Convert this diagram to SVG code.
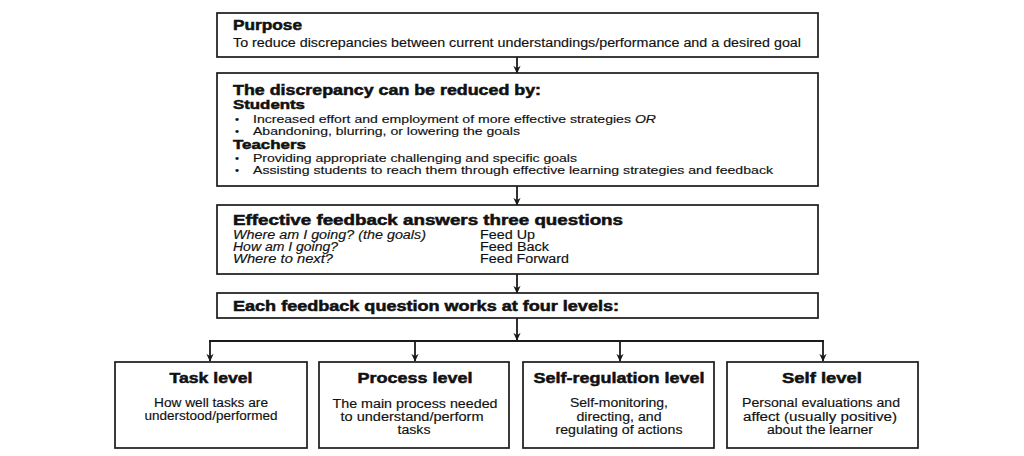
<svg xmlns="http://www.w3.org/2000/svg" width="1024" height="456" viewBox="0 0 1024 456">
<defs>
<marker id="ah" viewBox="0 0 10 10" refX="9" refY="5" markerWidth="8" markerHeight="8" markerUnits="userSpaceOnUse" orient="auto">
<path d="M0,0.5 L10,5 L0,9.5 L3,5 Z" fill="#1a1a1a"/>
</marker>
<style>
.box{fill:#fff;stroke:#1a1a1a;stroke-width:1.7}
.h{font-family:"Liberation Sans",Arial,sans-serif;font-weight:bold;font-size:14px;fill:#111;stroke:#111;stroke-width:0.5}
.hs{font-size:13px}
.t{font-family:"Liberation Sans",Arial,sans-serif;font-size:12px;fill:#111;stroke:#111;stroke-width:0.15}
.tb{font-size:11.5px}
.i{font-style:italic}
.c{text-anchor:middle}
.bt{font-family:"Liberation Sans",Arial,sans-serif;font-weight:bold;font-size:15px;fill:#111;stroke:#111;stroke-width:0.5;text-anchor:middle}
.line{fill:none;stroke:#1a1a1a;stroke-width:1.8}
</style>
</defs>
<rect width="1024" height="456" fill="#fff"/>

<g id="connectors">
<path class="line" d="M517,57 V73" marker-end="url(#ah)"/>
<path class="line" d="M517,186 V205" marker-end="url(#ah)"/>
<path class="line" d="M517,274 V293" marker-end="url(#ah)"/>
<path class="line" d="M517,318 V340" marker-end="url(#ah)"/>
<path class="line" d="M209,341 H824" style="stroke-width:2.2"/>
<path class="line" d="M210,341 V361" marker-end="url(#ah)"/>
<path class="line" d="M415,341 V361" marker-end="url(#ah)"/>
<path class="line" d="M620,341 V361" marker-end="url(#ah)"/>
<path class="line" d="M823,341 V361" marker-end="url(#ah)"/>
</g>

<g id="purpose">
<rect class="box" x="217" y="13" width="601" height="44"/>
<text class="h" x="233" y="30" textLength="69" lengthAdjust="spacingAndGlyphs">Purpose</text>
<text class="t" x="233" y="47" textLength="568" lengthAdjust="spacingAndGlyphs">To reduce discrepancies between current understandings/performance and a desired goal</text>
</g>

<g id="discrepancy">
<rect class="box" x="217" y="73" width="601" height="113"/>
<text class="h" x="233" y="95" textLength="308" lengthAdjust="spacingAndGlyphs">The discrepancy can be reduced by:</text>
<text class="h hs" x="233" y="109" textLength="72" lengthAdjust="spacingAndGlyphs">Students</text>
<text class="t tb" x="235" y="123">•</text>
<text class="t tb" x="253" y="123" textLength="403" lengthAdjust="spacingAndGlyphs">Increased effort and employment of more effective strategies <tspan class="i">OR</tspan></text>
<text class="t tb" x="235" y="135">•</text>
<text class="t tb" x="253" y="135" textLength="267" lengthAdjust="spacingAndGlyphs">Abandoning, blurring, or lowering the goals</text>
<text class="h hs" x="233" y="149" textLength="73" lengthAdjust="spacingAndGlyphs">Teachers</text>
<text class="t tb" x="235" y="162">•</text>
<text class="t tb" x="253" y="162" textLength="324" lengthAdjust="spacingAndGlyphs">Providing appropriate challenging and specific goals</text>
<text class="t tb" x="235" y="174">•</text>
<text class="t tb" x="253" y="174" textLength="520" lengthAdjust="spacingAndGlyphs">Assisting students to reach them through effective learning strategies and feedback</text>
</g>

<g id="questions">
<rect class="box" x="217" y="205" width="601" height="69"/>
<text class="h" x="233" y="225" textLength="390" lengthAdjust="spacingAndGlyphs">Effective feedback answers three questions</text>
<text class="t i" x="233" y="239" textLength="193" lengthAdjust="spacingAndGlyphs">Where am I going? (the goals)</text>
<text class="t i" x="233" y="251" textLength="105" lengthAdjust="spacingAndGlyphs">How am I going?</text>
<text class="t i" x="233" y="263" textLength="100" lengthAdjust="spacingAndGlyphs">Where to next?</text>
<text class="t" x="480" y="239" textLength="55" lengthAdjust="spacingAndGlyphs">Feed Up</text>
<text class="t" x="480" y="251" textLength="69" lengthAdjust="spacingAndGlyphs">Feed Back</text>
<text class="t" x="480" y="263" textLength="89" lengthAdjust="spacingAndGlyphs">Feed Forward</text>
</g>

<g id="four-levels">
<rect class="box" x="217" y="293" width="601" height="25"/>
<text class="h" x="233" y="311" textLength="386" lengthAdjust="spacingAndGlyphs">Each feedback question works at four levels:</text>
</g>

<g id="task-level">
<rect class="box" x="115" y="362" width="192" height="86"/>
<text class="bt" x="211" y="383" textLength="83" lengthAdjust="spacingAndGlyphs">Task level</text>
<text class="t c" x="211" y="407" textLength="114" lengthAdjust="spacingAndGlyphs">How well tasks are</text>
<text class="t c" x="211" y="420" textLength="133" lengthAdjust="spacingAndGlyphs">understood/performed</text>
</g>

<g id="process-level">
<rect class="box" x="319" y="362" width="190" height="86"/>
<text class="bt" x="415" y="383" textLength="115" lengthAdjust="spacingAndGlyphs">Process level</text>
<text class="t c" x="415" y="408" textLength="165" lengthAdjust="spacingAndGlyphs">The main process needed</text>
<text class="t c" x="412" y="421" textLength="143" lengthAdjust="spacingAndGlyphs">to understand/perform</text>
<text class="t c" x="414" y="434" textLength="33" lengthAdjust="spacingAndGlyphs">tasks</text>
</g>

<g id="self-regulation-level">
<rect class="box" x="523" y="362" width="191" height="86"/>
<text class="bt" x="619" y="383" textLength="171" lengthAdjust="spacingAndGlyphs">Self-regulation level</text>
<text class="t c" x="619" y="407" textLength="98" lengthAdjust="spacingAndGlyphs">Self-monitoring,</text>
<text class="t c" x="619" y="421" textLength="85" lengthAdjust="spacingAndGlyphs">directing, and</text>
<text class="t c" x="619" y="434" textLength="127" lengthAdjust="spacingAndGlyphs">regulating of actions</text>
</g>

<g id="self-level">
<rect class="box" x="727" y="362" width="191" height="86"/>
<text class="bt" x="822" y="383" textLength="80" lengthAdjust="spacingAndGlyphs">Self level</text>
<text class="t c" x="821" y="407" textLength="158" lengthAdjust="spacingAndGlyphs">Personal evaluations and</text>
<text class="t c" x="820" y="421" textLength="154" lengthAdjust="spacingAndGlyphs">affect (usually positive)</text>
<text class="t c" x="820" y="434" textLength="106" lengthAdjust="spacingAndGlyphs">about the learner</text>
</g>
</svg>
